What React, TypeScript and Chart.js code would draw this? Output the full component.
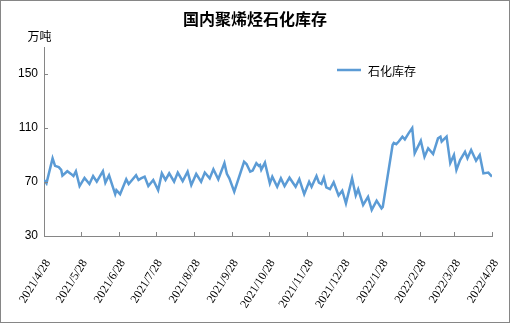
import React, { useEffect, useRef } from "react";
import { Chart, registerables } from "chart.js";

Chart.register(...registerables);

const TITLE = "国内聚烯烃石化库存";
const UNIT = "万吨";
const SERIES_NAME = "石化库存";

// day offsets since 2021/4/28
const days = [
  0, 2, 7, 9, 12, 14, 15, 19, 22, 24, 26, 29, 33, 37, 40, 43, 48, 50, 53, 58,
  59, 62, 67, 69, 75, 77, 79, 82, 85, 89, 93, 96, 99, 102, 106, 109, 113, 117, 120, 124,
  128, 131, 135, 138, 142, 147, 149, 151, 155, 163, 165, 168, 170, 173, 175, 176, 177, 180, 184, 186,
  190, 193, 196, 200, 205, 208, 212, 216, 218, 222, 224, 226, 228, 230, 233, 236, 240, 243, 246, 251,
  254, 256, 260, 264, 267, 271, 275, 276, 284, 285, 287, 289, 292, 294, 297, 300, 302, 307, 310, 313,
  317, 321, 323, 324, 328, 331, 334, 336, 339, 343, 345, 348, 352, 355, 358, 362, 365,
];
const inventory = [
  71.5, 69, 87.5, 82, 81, 79, 74.7, 78, 76, 74.4, 78, 67, 73, 68.5, 74.4, 70.2, 78, 69.5, 75, 61,
  64, 61, 72, 68.5, 75, 71.5, 72.7, 74, 67, 71.5, 64, 76.4, 71.5, 76.4, 70.2, 77, 70.7, 77.6, 67.8, 76,
  70.2, 77, 72.7, 79.4, 72, 84, 76, 72.7, 62.8, 85, 83.3, 77.6, 78.4, 84, 82, 82.6, 79, 84.3, 69, 74,
  66.5, 72.7, 67, 73.2, 66.5, 72.2, 61, 70.2, 66.5, 74.4, 69.5, 68.5, 73.2, 66, 64.8, 69.8, 60, 63.6, 54.2, 72.7,
  60, 64.6, 53, 59, 49.3, 56.2, 50.5, 51.5, 97.4, 99, 98, 100, 103.6, 101.6, 106, 110, 91.3, 100.6, 88.7, 95,
  90.7, 102.4, 103.6, 100, 103.6, 84, 90, 79, 86.3, 92.4, 87.6, 93.7, 85.8, 90, 76.4, 77, 74,
];

const xTickDays = [0, 30, 61, 91, 122, 153, 183, 214, 244, 275, 306, 334, 365];
const xTickLabels = [
  "2021/4/28", "2021/5/28", "2021/6/28", "2021/7/28", "2021/8/28", "2021/9/28",
  "2021/10/28", "2021/11/28", "2021/12/28", "2022/1/28", "2022/2/28", "2022/3/28", "2022/4/28",
];
const yTicks = [30, 70, 110, 150];

const LINE_COLOR = "#5B9BD5";
const AXIS_COLOR = "#868686";

export default function App() {
  const ref = useRef<HTMLCanvasElement>(null);

  useEffect(() => {
    document.body.style.margin = "0";
    const canvas = ref.current;
    if (!canvas) return;

    const decor = {
      id: "decor",
      afterDraw(chart: any) {
        const ctx = chart.ctx;
        const { left, bottom } = chart.chartArea;
        const xs = chart.scales.x;
        const ys = chart.scales.y;
        ctx.save();
        // border
        ctx.strokeStyle = AXIS_COLOR;
        ctx.lineWidth = 1;
        ctx.strokeRect(0.5, 0.5, chart.width - 1, chart.height - 1);
        // inward ticks
        ctx.beginPath();
        yTicks.forEach((v) => {
          const py = Math.round(ys.getPixelForValue(v)) + 0.5;
          ctx.moveTo(left, py);
          ctx.lineTo(left + 4, py);
        });
        xTickDays.forEach((d) => {
          const px = Math.round(xs.getPixelForValue(d)) + 0.5;
          ctx.moveTo(px, bottom);
          ctx.lineTo(px, bottom - 4);
        });
        ctx.stroke();
        // title
        ctx.fillStyle = "#000";
        ctx.textAlign = "center";
        ctx.textBaseline = "middle";
        ctx.font = "bold 16px 'Noto Sans CJK SC'";
        ctx.fillText(TITLE, 255, 19);
        // unit
        ctx.font = "12px 'Noto Sans CJK SC'";
        ctx.fillText(UNIT, 39.5, 36);
        // legend
        ctx.strokeStyle = LINE_COLOR;
        ctx.lineWidth = 2.5;
        ctx.beginPath();
        ctx.moveTo(337, 70);
        ctx.lineTo(361, 70);
        ctx.stroke();
        ctx.textAlign = "left";
        ctx.fillStyle = "#000";
        ctx.fillText(SERIES_NAME, 368, 71);
        ctx.restore();
      },
    };

    const chart = new Chart(canvas, {
      type: "line",
      data: {
        datasets: [
          {
            label: SERIES_NAME,
            data: days.map((d, i) => ({ x: d, y: inventory[i] })),
            borderColor: LINE_COLOR,
            backgroundColor: LINE_COLOR,
            borderWidth: 2.5,
            pointRadius: 0,
            tension: 0,
            fill: false,
          },
        ],
      },
      options: {
        responsive: false,
        animation: false,
        layout: { padding: { left: 0, top: 47, right: 18, bottom: 0 } },
        plugins: {
          legend: { display: false },
          title: { display: false },
          tooltip: { enabled: false },
        },
        scales: {
          x: {
            type: "linear",
            min: 0,
            max: 365,
            afterFit: (s: any) => {
              s.height = 87;
              s.paddingLeft = 0;
              s.paddingRight = 0;
            },
            afterBuildTicks: (s: any) => {
              s.ticks = xTickDays.map((v) => ({ value: v }));
            },
            grid: { display: true, drawOnChartArea: false, drawTicks: false, color: AXIS_COLOR },
            border: { display: true, color: AXIS_COLOR, width: 1 },
            ticks: {
              autoSkip: false,
              minRotation: 58,
              maxRotation: 58,
              padding: 21,
              labelOffset: 4,
              color: "#000",
              font: { family: "'Liberation Serif'", size: 12 },
              callback: (_v: any, i: number) => xTickLabels[i],
            },
          },
          y: {
            min: 30,
            max: 170,
            afterFit: (s: any) => {
              s.width = 44;
              s.paddingTop = 0;
              s.paddingBottom = 0;
            },
            afterBuildTicks: (s: any) => {
              s.ticks = yTicks.map((v) => ({ value: v }));
            },
            grid: { display: true, drawOnChartArea: false, drawTicks: false, color: AXIS_COLOR },
            border: { display: true, color: AXIS_COLOR, width: 1 },
            ticks: {
              padding: 6,
              color: "#000",
              font: { family: "'Liberation Sans'", size: 12 },
              callback: (v: any) => String(v),
            },
          },
        },
      },
      plugins: [decor],
    });

    return () => chart.destroy();
  }, []);

  return (
    <div style={{ position: "absolute", left: 0, top: 0, width: 510, height: 323 }}>
      <canvas ref={ref} width={510} height={323} style={{ display: "block", width: 510, height: 323 }} />
    </div>
  );
}
